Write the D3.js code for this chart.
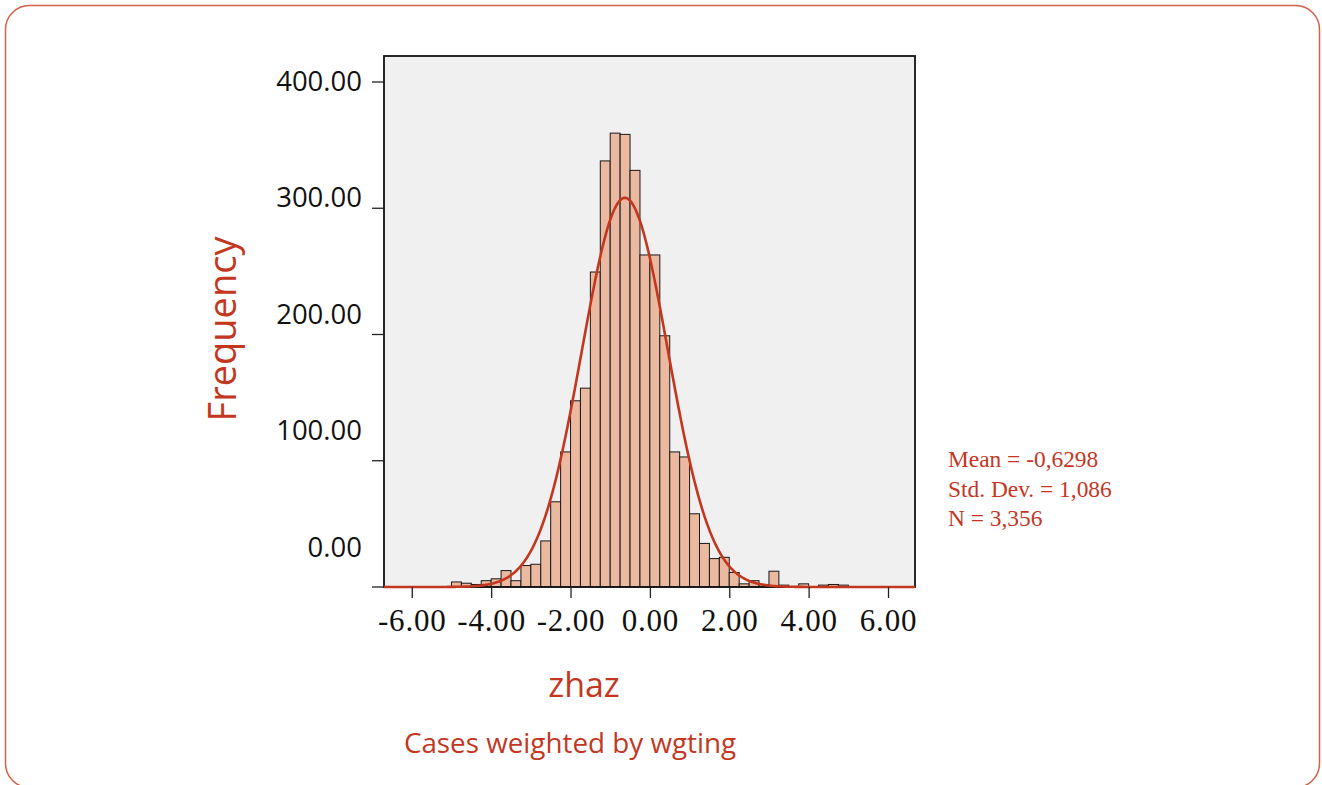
<!DOCTYPE html>
<html>
<head>
<meta charset="utf-8">
<script src="https://cdn.jsdelivr.net/npm/d3@7"></script>
<style>
  html, body { margin: 0; padding: 0; background: #ffffff; }
  svg { display: block; }
</style>
</head>
<body>
<svg id="chart" width="1322" height="785"></svg>
<script>
// ---------------- data ----------------
const binWidth = 0.25;
const binLower = [
  -5.0, -4.75, -4.5, -4.25, -4.0, -3.75, -3.5, -3.25, -3.0, -2.75,
  -2.5, -2.25, -2.0, -1.75, -1.5, -1.25, -1.0, -0.75, -0.5, -0.25,
   0.0,  0.25,  0.5,  0.75,  1.0,  1.25,  1.5,  1.75,  2.0,  2.25,
   2.5,  2.75,  3.0,  3.25,  3.5,  3.75,  4.0,  4.25,  4.5,  4.75
];
const binCounts = [
   4,   3,   2,   5,   6.5, 13,   5,  17,  18,  36.5,
  67.5, 107, 147.5, 157.5, 249.5, 337.5, 359.5, 358.5, 330, 263,
  263, 199, 107, 103,  58,  34.5, 22.5, 23.5, 11.5, 2.5,
   5,   2,  12.5, 1.5,  0,   2.5,  0,   1.5,  2,   1.5
];
const xTicks = [-6, -4, -2, 0, 2, 4, 6];
const yTicks = [0, 100, 200, 300, 400];
const statMean = -0.6298;
const statSD = 1.086;
const statN = 3356;
const statLines = ["Mean = -0,6298", "Std. Dev. = 1,086", "N = 3,356"];
const xTitle = "zhaz";
const yTitle = "Frequency";
const noteText = "Cases weighted by wgting";

// ---------------- layout ----------------
const svg = d3.select("#chart");
const red = "#c4371f";
const plot = { left: 384, right: 915, top: 56, bottom: 587 };

const x = d3.scaleLinear().domain([-6.7, 6.68]).range([plot.left, plot.right]);
const y = d3.scaleLinear().domain([0, 420.6]).range([plot.bottom, plot.top]);
// tick labels in the source are drawn on a slightly compressed vertical scale
const yLabel = d3.scaleLinear().domain([0, 400]).range([547, 81]);

// outer rounded border
svg.append("rect")
  .attr("x", 5.5).attr("y", 5.5)
  .attr("width", 1314).attr("height", 782)
  .attr("rx", 24).attr("ry", 24)
  .attr("fill", "none")
  .attr("stroke", "#d4604a")
  .attr("stroke-width", 1.5);

// plot background
svg.append("rect")
  .attr("x", plot.left).attr("y", plot.top)
  .attr("width", plot.right - plot.left)
  .attr("height", plot.bottom - plot.top)
  .attr("fill", "#f0f0f0");

// bars
const bins = binLower.map((lo, i) => ({ lo, hi: lo + binWidth, v: binCounts[i] }));
svg.append("g")
  .selectAll("rect")
  .data(bins.filter(d => d.v > 0))
  .join("rect")
  .attr("x", d => x(d.lo))
  .attr("width", d => x(d.hi) - x(d.lo))
  .attr("y", d => y(d.v))
  .attr("height", d => y(0) - y(d.v))
  .attr("fill", "#ebb8a0")
  .attr("stroke", "#1a1a1a")
  .attr("stroke-width", 1);

// frame
svg.append("rect")
  .attr("x", plot.left).attr("y", plot.top)
  .attr("width", plot.right - plot.left)
  .attr("height", plot.bottom - plot.top)
  .attr("fill", "none")
  .attr("stroke", "#111")
  .attr("stroke-width", 1.8);

// fitted normal curve
const density = v => statN * binWidth / (statSD * Math.sqrt(2 * Math.PI)) *
  Math.exp(-0.5 * Math.pow((v - statMean) / statSD, 2));
const curveX = d3.range(-6.7, 6.68 + 1e-9, 0.02);
svg.append("path")
  .datum(curveX)
  .attr("d", d3.line().x(d => x(d)).y(d => y(density(d))))
  .attr("fill", "none")
  .attr("stroke", red)
  .attr("stroke-width", 2.6);

// x axis
const xAxis = d3.axisBottom(x).tickValues(xTicks).tickSize(11).tickPadding(11)
  .tickFormat(d3.format(".2f"));
const gx = svg.append("g").attr("transform", `translate(0,${plot.bottom})`).call(xAxis);
gx.select(".domain").remove();
gx.selectAll(".tick line").attr("stroke", "#222").attr("stroke-width", 1.3);
gx.selectAll(".tick text")
  .attr("fill", "#111")
  .attr("font-family", "'Liberation Serif', 'Times New Roman', serif")
  .attr("font-size", 31)
  .attr("letter-spacing", 0.8)
  .text(d => d3.format(".2f")(d).replace("−", "-"));

// y axis ticks
const gy = svg.append("g");
gy.selectAll("line")
  .data(yTicks)
  .join("line")
  .attr("x1", plot.left - 12).attr("x2", plot.left)
  .attr("y1", d => y(d)).attr("y2", d => y(d))
  .attr("stroke", "#222").attr("stroke-width", 1.3);
gy.selectAll("text")
  .data(yTicks)
  .join("text")
  .attr("x", 362)
  .attr("y", d => yLabel(d))
  .attr("dy", "0.35em")
  .attr("text-anchor", "end")
  .attr("fill", "#111")
  .attr("font-family", "'Open Sans', 'Noto Sans', sans-serif")
  .attr("font-size", 27.5)
  .text(d => d3.format(".2f")(d));

// axis titles
svg.append("text")
  .attr("transform", `translate(236,329) rotate(-90)`)
  .attr("text-anchor", "middle")
  .attr("fill", red)
  .attr("font-family", "'Open Sans', 'Noto Sans', sans-serif")
  .attr("font-size", 38)
  .text(yTitle);

svg.append("text")
  .attr("x", 584).attr("y", 697)
  .attr("text-anchor", "middle")
  .attr("fill", red)
  .attr("font-family", "'Open Sans', 'Noto Sans', sans-serif")
  .attr("font-size", 34)
  .text(xTitle);

svg.append("text")
  .attr("x", 570).attr("y", 753)
  .attr("text-anchor", "middle")
  .attr("fill", red)
  .attr("font-family", "'Open Sans', 'Noto Sans', sans-serif")
  .attr("font-size", 27.8)
  .text(noteText);

// stats box
svg.append("g")
  .selectAll("text")
  .data(statLines)
  .join("text")
  .attr("x", 948)
  .attr("y", (d, i) => 467 + i * 29.5)
  .attr("fill", red)
  .attr("font-family", "'Liberation Serif', 'Times New Roman', serif")
  .attr("font-size", 23.4)
  .text(d => d);
</script>
</body>
</html>
